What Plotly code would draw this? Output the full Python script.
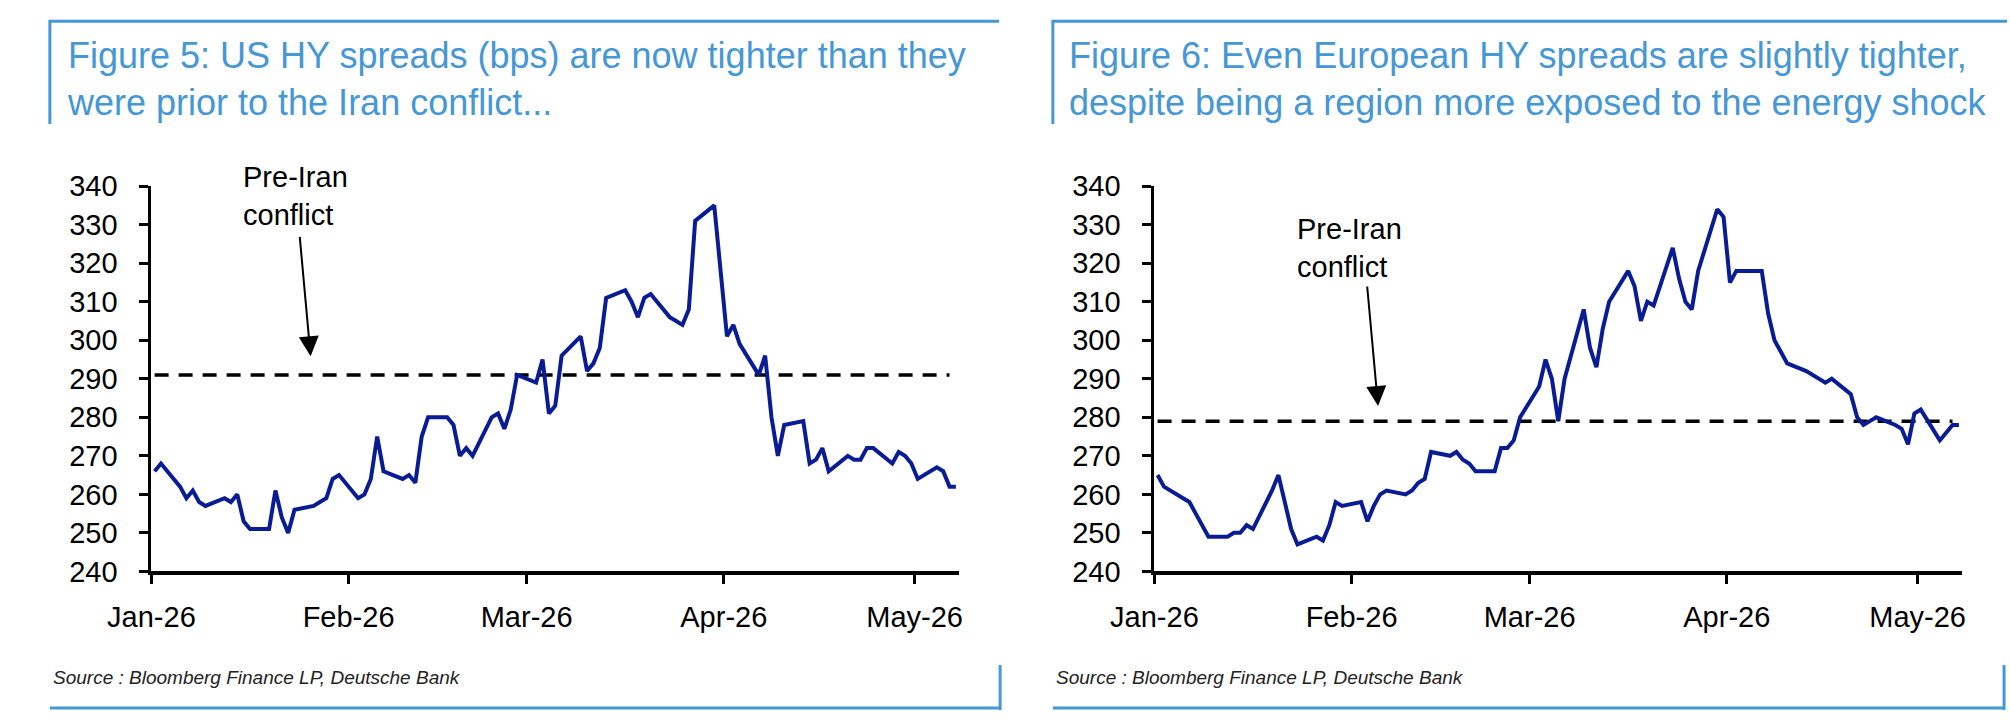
import pandas as pd
import plotly.graph_objects as go

W, H = 2010, 726

# business days Jan-1 to May-7 2026
dates = pd.bdate_range("2026-01-01", "2026-05-07")

us_hy = [266, 268, 262, 259, 261, 258, 257, 259, 258, 260, 253, 251, 251, 261, 254, 250, 256, 257, 258, 259, 264, 265,
         259, 260, 264, 275, 266, 264, 265, 263, 275, 280, 280, 278, 270, 272, 270, 280, 281, 277, 282, 291,
         289, 295, 281, 283, 296, 301, 292, 294, 298, 311, 313, 310, 306, 311, 312, 306, 305, 304, 308, 331, 335, 318,
         301, 304, 299, 291, 296, 280, 270, 278, 279, 268, 269, 272, 266, 270, 269, 269, 272, 272, 268, 271, 270, 268,
         264, 267, 266, 262, 262]

eu_hy = [265, 262, 259, 258, 255, 252, 249, 249, 250, 250, 252, 251, 261, 265, 258, 251, 247, 249, 248, 252, 258, 257,
         258, 253, 257, 260, 261, 260, 261, 263, 264, 271, 270, 271, 269, 268, 266, 266, 272, 272, 274, 280,
         288, 295, 290, 279, 290, 308, 298, 293, 303, 310, 318, 314, 305, 310, 309, 324, 316, 310, 308, 318, 334, 332,
         315, 318, 318, 318, 307, 300, 297, 294, 292, 291, 290, 289, 290, 286, 280, 278, 279, 280, 278, 277, 273, 281,
         282, 274, 276, 278, 278]

us_pre_iran = 291
eu_pre_iran = 279

titles = ["Figure 5: US HY spreads (bps) are now tighter than they<br>were prior to the Iran conflict...",
          "Figure 6: Even European HY spreads are slightly tighter,<br>despite being a region more exposed to the energy shock"]
source = "Source : Bloomberg Finance LP, Deutsche Bank"
note = "Pre-Iran<br>conflict"

BLUE = "#4597d5"
NAVY = "#0a1c94"
FONT = "Arial"

# excel date axis puts each point in the middle of its day
xs = dates + pd.Timedelta(hours=12)


def px(x):
    return x / W


def py(y):
    return 1 - y / H


fig = go.Figure()
for i, (vals, level) in enumerate([(us_hy, us_pre_iran), (eu_hy, eu_pre_iran)]):
    xa = "x" if i == 0 else "x2"
    ya = "y" if i == 0 else "y2"
    fig.add_trace(go.Scatter(x=[xs[0], xs[-2]], y=[level, level], mode="lines", xaxis=xa, yaxis=ya,
                             line=dict(color="black", width=3.5, dash="14px,10px"), showlegend=False))
    fig.add_trace(go.Scatter(x=xs, y=vals, mode="lines", xaxis=xa, yaxis=ya,
                             line=dict(color=NAVY, width=4), showlegend=False))

xax = dict(range=["2026-01-01", "2026-05-08"], tickformat="%b-%y", dtick="M1", tick0="2026-01-01",
           showline=True, linecolor="black", linewidth=4, ticks="outside", ticklen=9, tickwidth=3,
           tickcolor="black", showgrid=False, zeroline=False, ticklabelstandoff=8,
           tickfont=dict(family=FONT, size=29, color="black"))
yax = dict(range=[240, 340], dtick=10, showline=True, linecolor="black", linewidth=3, ticks="outside",
           ticklen=9, tickwidth=3, tickcolor="black", showgrid=False, zeroline=False, ticklabelstandoff=16,
           tickfont=dict(family=FONT, size=29, color="black"))

ydom = [py(581), py(178)]
fig.update_layout(
    width=W, height=H, margin=dict(l=0, r=0, t=0, b=0),
    paper_bgcolor="white", plot_bgcolor="white",
    xaxis=dict(xax, domain=[px(110), px(937)], anchor="y"),
    yaxis=dict(yax, domain=ydom, anchor="x"),
    xaxis2=dict(xax, domain=[px(1137), px(1964)], anchor="y2"),
    yaxis2=dict(yax, domain=ydom, anchor="x2"),
)

# panel frames
frame = dict(type="line", xref="paper", yref="paper", line=dict(color=BLUE, width=3))
for x0, x1 in [(6, 979), (1033, 2007)]:
    fig.add_shape(frame, x0=px(x0), x1=px(x1 - 1 if x0 == 6 else 2010), y0=py(5.5), y1=py(5.5))
    fig.add_shape(frame, x0=px(x0), x1=px(x0), y0=py(4), y1=py(113))
    fig.add_shape(frame, x0=px(x0), x1=px(x1), y0=py(724), y1=py(724))
    fig.add_shape(frame, x0=px(x1), x1=px(x1), y0=py(679), y1=py(726))

for i, x0 in enumerate([6, 1033]):
    fig.add_annotation(x=px(x0 + 15), y=py(66), xref="paper", yref="paper", text=titles[i], showarrow=False,
                       xanchor="left", yanchor="middle", align="left",
                       font=dict(family=FONT, size=36, color=BLUE))
    fig.add_annotation(x=px(x0 + 1), y=py(692), xref="paper", yref="paper", text="<i>" + source + "</i>",
                       showarrow=False, xanchor="left", yanchor="middle",
                       font=dict(family=FONT, size=19, color="#222222"))

# pre-Iran notes and arrows
for tx, ty, ax_tip, ay_tip in [(202, 188, 273, 356), (1281, 243, 1366, 408)]:
    fig.add_annotation(x=px(tx), y=py(ty), xref="paper", yref="paper", text=note, showarrow=False,
                       xanchor="left", yanchor="middle", align="left",
                       font=dict(family=FONT, size=29, color="black"))
    fig.add_annotation(x=px(ax_tip), y=py(ay_tip), xref="paper", yref="paper", text="", showarrow=True,
                       ax=-11, ay=-121, arrowhead=2, arrowsize=2, arrowwidth=2, arrowcolor="black")

fig.write_html("out.html", config={"displayModeBar": False},
               post_script="document.body.style.margin='0';")
